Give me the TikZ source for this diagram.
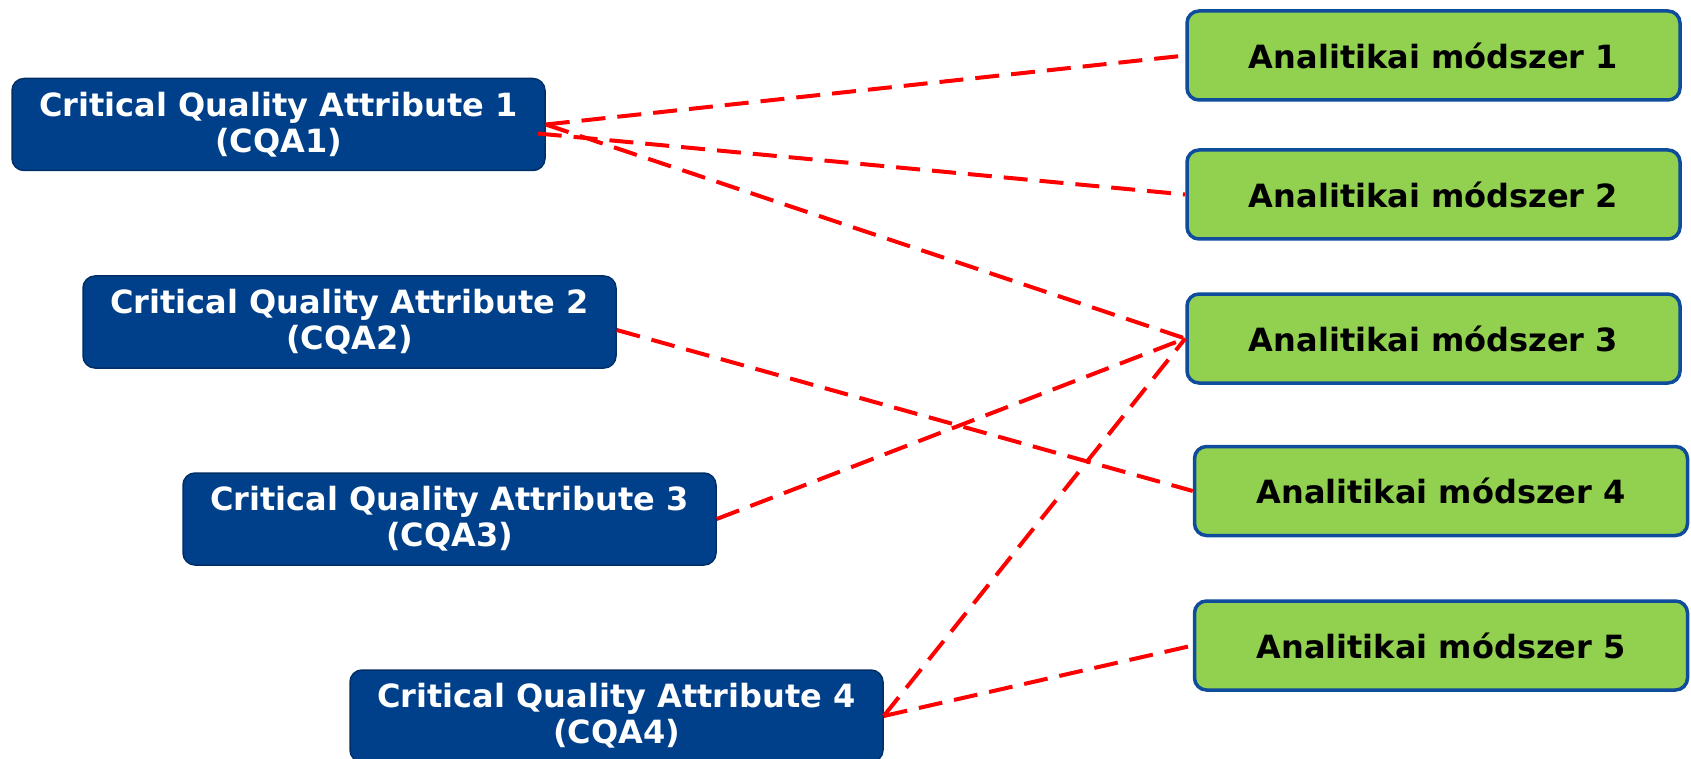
\documentclass[tikz,border=0pt]{standalone}
\usepackage{fontspec}
\setmainfont{DejaVu Sans}
\usetikzlibrary{calc}
\definecolor{cqablue}{HTML}{00408A}
\definecolor{cqaborder}{HTML}{002F66}
\definecolor{amgreen}{HTML}{92D050}
\definecolor{amborder}{HTML}{0F4C9C}
\definecolor{linkred}{HTML}{FF0000}
\begin{document}
\begin{tikzpicture}[x=1pt,y=-1pt,
 cqa/.style={draw=cqaborder, line width=1.5pt, fill=cqablue, rounded corners=12pt, text=white,
   font=\fontsize{32}{36}\selectfont\bfseries, align=center, inner sep=0pt,
   minimum width=533pt, minimum height=92pt},
 am/.style={draw=amborder, line width=3.5pt, fill=amgreen, rounded corners=12pt, text=black,
   font=\fontsize{32}{40}\selectfont\bfseries, inner sep=0pt,
   minimum width=493pt, minimum height=89pt},
 link/.style={draw=linkred, line width=4pt, dash pattern=on 24pt off 12pt}]
\useasboundingbox (0,0) rectangle (1691,759);
\node[cqa] (cqa1) at (278.5,124.5) {Critical Quality Attribute 1\\(CQA1)};
\node[cqa] (cqa2) at (349.5,322) {Critical Quality Attribute 2\\(CQA2)};
\node[cqa] (cqa3) at (449.5,519) {Critical Quality Attribute 3\\(CQA3)};
\node[cqa] (cqa4) at (616.5,716) {Critical Quality Attribute 4\\(CQA4)};
\node[am] (am1) at (1433.5,55.5) {Analitikai módszer 1};
\node[am] (am2) at (1433.5,194.5) {Analitikai módszer 2};
\node[am] (am3) at (1433.5,338.5) {Analitikai módszer 3};
\node[am] (am4) at (1441,491) {Analitikai módszer 4};
\node[am] (am5) at (1441,645.5) {Analitikai módszer 5};
\draw[link] (cqa1.east) -- (am1.west);
\draw[link] ($(cqa1.east)+(-8,9)$) -- (am2.west);
\draw[link] (cqa1.east) -- (am3.west);
\draw[link] ($(cqa2.east)+(0,8)$) -- (am4.west);
\draw[link] (cqa3.east) -- (am3.west);
\draw[link] (cqa4.east) -- (am3.west);
\draw[link] (cqa4.east) -- (am5.west);
\end{tikzpicture}
\end{document}
